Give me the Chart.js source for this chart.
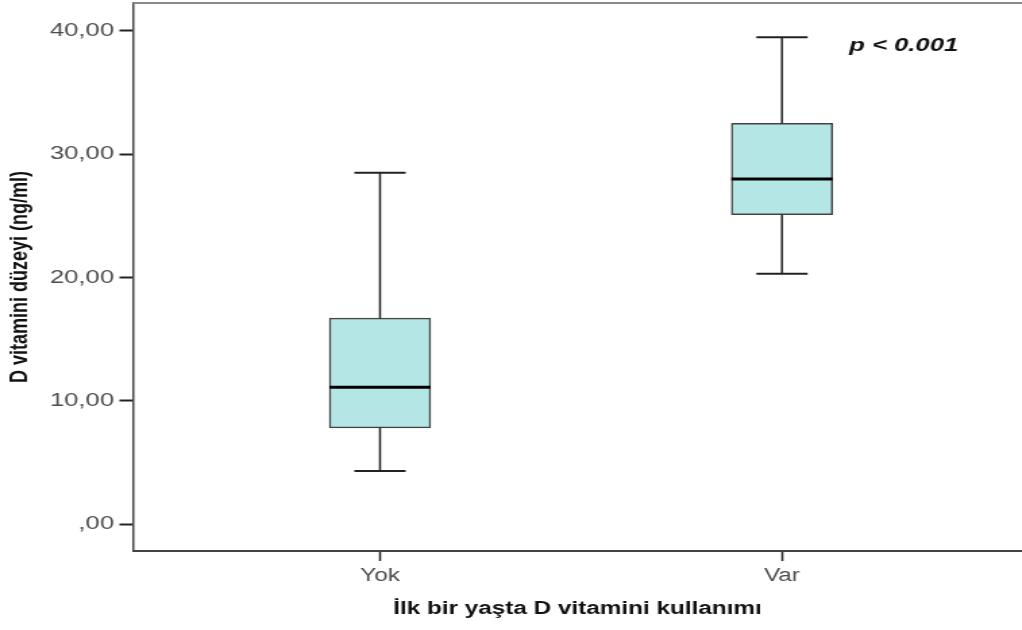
<!DOCTYPE html>
<html>
<head>
<meta charset="utf-8">
<script src="https://cdn.jsdelivr.net/npm/chart.js@4/dist/chart.umd.min.js"></script>
<style>
  html, body { margin: 0; padding: 0; background: #fff; overflow: hidden; }
  /* the original picture is stretched sideways, so the chart is drawn narrow and widened */
  #wrap { width: 757px; height: 630px; transform: scaleX(1.35); transform-origin: 0 0; }
</style>
</head>
<body>
<div id="wrap"><canvas id="chart"></canvas></div>
<script>
// kutu grafiği verileri
const categories = ["Yok", "Var"];
const whiskerLow = [4.3, 20.3];
const q1 = [7.8, 25.1];
const medians = [11.1, 28.0];
const q3 = [16.7, 32.5];
const whiskerHigh = [28.5, 39.5];

const yTickValues = [0, 10, 20, 30, 40];
const yTickLabels = [",00", "10,00", "20,00", "30,00", "40,00"];

const BOX_WIDTH = 75;
const CAP_WIDTH = 38;
const INK = "#222";

// bıyıklar, medyan, çerçeve ve p değeri
const boxPlotPlugin = {
  id: "boxPlot",
  afterDatasetsDraw(chart) {
    const { ctx, chartArea, scales } = chart;
    const xs = scales.x;
    const ys = scales.y;
    ctx.save();

    // üst çerçeve çizgisi (sağ kenara kadar)
    ctx.strokeStyle = "#8a8a8a";
    ctx.lineWidth = 2;
    ctx.beginPath();
    ctx.moveTo(chartArea.left, chartArea.top);
    ctx.lineTo(chart.width, chartArea.top);
    ctx.stroke();

    // alt eksen çizgisini de kenara kadar uzat
    ctx.strokeStyle = "#444";
    ctx.beginPath();
    ctx.moveTo(chartArea.right - 1, chartArea.bottom);
    ctx.lineTo(chart.width, chartArea.bottom);
    ctx.stroke();

    categories.forEach((c, i) => {
      const x = xs.getPixelForValue(i);
      const yLow = ys.getPixelForValue(whiskerLow[i]);
      const yQ1 = ys.getPixelForValue(q1[i]);
      const yMed = ys.getPixelForValue(medians[i]);
      const yQ3 = ys.getPixelForValue(q3[i]);
      const yHigh = ys.getPixelForValue(whiskerHigh[i]);

      ctx.strokeStyle = INK;
      ctx.lineWidth = 1.5;
      ctx.beginPath();
      ctx.moveTo(x, yHigh);
      ctx.lineTo(x, yQ3);
      ctx.moveTo(x, yQ1);
      ctx.lineTo(x, yLow);
      ctx.stroke();

      ctx.lineWidth = 2;
      ctx.beginPath();
      ctx.moveTo(x - CAP_WIDTH / 2, yHigh);
      ctx.lineTo(x + CAP_WIDTH / 2, yHigh);
      ctx.moveTo(x - CAP_WIDTH / 2, yLow);
      ctx.lineTo(x + CAP_WIDTH / 2, yLow);
      ctx.stroke();

      // medyan
      ctx.strokeStyle = "#000";
      ctx.lineWidth = 3;
      ctx.beginPath();
      ctx.moveTo(x - BOX_WIDTH / 2, yMed);
      ctx.lineTo(x + BOX_WIDTH / 2, yMed);
      ctx.stroke();
    });

    ctx.fillStyle = "#111";
    ctx.font = "italic bold 19px 'Liberation Sans', Arial, sans-serif";
    ctx.textAlign = "left";
    ctx.textBaseline = "alphabetic";
    ctx.fillText("p < 0.001", 629, 51);
    ctx.restore();
  },
};

const data = {
  datasets: [
    {
      data: categories.map((c, i) => ({ x: i, y: [q1[i], q3[i]] })),
      backgroundColor: "#b4e6e6",
      borderColor: "#444",
      borderWidth: 1.5,
      borderSkipped: false,
      barThickness: BOX_WIDTH,
    },
  ],
};

const options = {
  responsive: true,
  maintainAspectRatio: false,
  animation: false,
  layout: { padding: { top: 3, left: 0, right: 0, bottom: 0 } },
  plugins: {
    legend: { display: false },
    tooltip: { enabled: false },
  },
  scales: {
    x: {
      type: "linear",
      offset: false,
      min: -0.6145,
      max: 1.597,
      afterBuildTicks: (axis) => {
        axis.ticks = categories.map((c, i) => ({ value: i }));
      },
      afterFit: (scale) => {
        scale.height = 79;
        scale.paddingLeft = 0;
        scale.paddingRight = 0;
      },
      ticks: {
        callback: (v) => categories[v],
        font: { family: "'Liberation Sans', Arial, sans-serif", size: 18 },
        color: "#4d4d4d",
        padding: 4,
        maxRotation: 0,
      },
      grid: {
        offset: false,
        drawOnChartArea: false,
        tickLength: 10,
        tickColor: INK,
        tickWidth: 1.5,
      },
      border: { color: "#444", width: 2 },
      title: {
        display: true,
        text: "İlk bir yaşta D vitamini kullanımı",
        font: { family: "'Liberation Sans', Arial, sans-serif", size: 18, weight: "bold" },
        color: "#111",
        padding: { top: 0, bottom: 10 },
      },
    },
    y: {
      min: -2.19,
      max: 42.27,
      afterBuildTicks: (axis) => {
        axis.ticks = yTickValues.map((v) => ({ value: v }));
      },
      afterFit: (scale) => {
        scale.width = 98.5;
        scale.paddingTop = 0;
        scale.paddingBottom = 0;
      },
      ticks: {
        callback: (v, idx) => yTickLabels[idx],
        font: { family: "'Liberation Sans', Arial, sans-serif", size: 19 },
        color: "#4d4d4d",
        padding: 4,
      },
      grid: {
        drawOnChartArea: false,
        tickLength: 10,
        tickColor: INK,
        tickWidth: 2,
      },
      border: { color: "#444", width: 1.5 },
      title: {
        display: true,
        text: "D vitamini düzeyi (ng/ml)",
        font: { family: "'Liberation Sans', Arial, sans-serif", size: 18, weight: "bold" },
        color: "#111",
        padding: { top: 4, bottom: 0 },
      },
    },
  },
};

new Chart(document.getElementById("chart"), {
  type: "bar",
  data: data,
  options: options,
  plugins: [boxPlotPlugin],
});
</script>
</body>
</html>
